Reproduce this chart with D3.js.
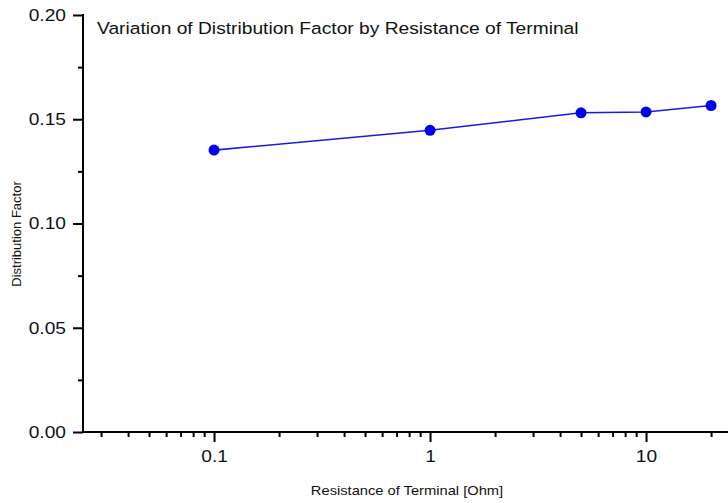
<!DOCTYPE html>
<html>
<head>
<meta charset="utf-8">
<script src="https://cdn.jsdelivr.net/npm/d3@7"></script>
<style>
  body { margin: 0; background: #fff; }
  svg { display: block; font-family: "Liberation Sans", Arial, sans-serif; }
</style>
</head>
<body>
<div id="chart"></div>
<script>
// values
const resistance = [0.1, 1, 5, 10, 20];
const distFactor = [0.1352, 0.1447, 0.1531, 0.1535, 0.1566];

const xMajor = [0.1, 1, 10];
const xMinor = [0.03, 0.04, 0.05, 0.06, 0.07, 0.08, 0.09,
                0.2, 0.3, 0.4, 0.5, 0.6, 0.7, 0.8, 0.9,
                2, 3, 4, 5, 6, 7, 8, 9, 20];
const yMajor = [0, 0.05, 0.10, 0.15, 0.20];
const yMinor = [0.025, 0.075, 0.125, 0.175];

const width = 728, height = 503;
const stretch = 1.13; // the source text looks wider than normal Arial

const svg = d3.select("#chart")
    .append("svg")
        .attr("width", width)
        .attr("height", height);

const x = d3.scaleLog().domain([0.025, 25]).range([84, 732]);
const y = d3.scaleLinear().domain([0, 0.2]).range([432, 15]);

// x axis, minor then major
svg.append("g")
    .attr("transform", `translate(0,${y(0)})`)
    .call(d3.axisBottom(x).tickValues(xMinor).tickSize(5).tickSizeOuter(0).tickFormat(""))
    .call(g => g.select(".domain").remove())
    .selectAll("line").attr("stroke", "#000").attr("stroke-width", 2);

svg.append("g")
    .attr("transform", `translate(0,${y(0)})`)
    .call(d3.axisBottom(x).tickValues(xMajor).tickSize(10).tickSizeOuter(0)
        .tickFormat(d => d3.format("~g")(d)))
    .call(g => g.selectAll("line").attr("stroke", "#000").attr("stroke-width", 2))
    .call(g => g.selectAll("text")
        .attr("font-size", 17).attr("fill", "#111").attr("dy", "1.0em")
        .attr("transform", `scale(${stretch},1)`))
    .call(g => g.select(".domain").remove());

svg.append("line")
    .attr("x1", 82).attr("x2", 730)
    .attr("y1", y(0)).attr("y2", y(0))
    .attr("stroke", "#000").attr("stroke-width", 2);

// y axis
svg.append("g")
    .attr("transform", `translate(${83},0)`)
    .call(d3.axisLeft(y).tickValues(yMinor).tickSize(5).tickFormat(""))
    .call(g => g.select(".domain").remove())
    .selectAll("line").attr("stroke", "#000").attr("stroke-width", 2);

svg.append("g")
    .attr("transform", `translate(${83},0)`)
    .call(d3.axisLeft(y).tickValues(yMajor).tickSize(10)
        .tickFormat(d3.format(".2f")))
    .call(g => g.selectAll("line").attr("stroke", "#000").attr("stroke-width", 2))
    .call(g => g.selectAll("text")
        .attr("font-size", 17).attr("fill", "#111")
        .attr("x", 0)
        .attr("transform", `translate(-17,0) scale(${stretch},1)`))
    .call(g => g.select(".domain").remove());

svg.append("line")
    .attr("x1", 83).attr("x2", 83)
    .attr("y1", y(0.2) - 1).attr("y2", y(0) + 1)
    .attr("stroke", "#000").attr("stroke-width", 2);

// series
const pts = resistance.map((r, i) => [r, distFactor[i]]);

svg.append("path")
    .datum(pts)
    .attr("fill", "none")
    .attr("stroke", "#1a1ae6")
    .attr("stroke-width", 1.6)
    .attr("d", d3.line().x(d => x(d[0])).y(d => y(d[1])));

svg.selectAll("circle")
    .data(pts)
    .enter()
    .append("circle")
        .attr("cx", d => x(d[0]))
        .attr("cy", d => y(d[1]))
        .attr("r", 5.5)
        .attr("fill", "#0000ee");

// texts
svg.append("text")
    .attr("transform", `translate(97,34) scale(${stretch},1)`)
    .attr("font-size", 17)
    .attr("fill", "#111")
    .text("Variation of Distribution Factor by Resistance of Terminal");

svg.append("text")
    .attr("transform", `translate(407,495) scale(${stretch},1)`)
    .attr("text-anchor", "middle")
    .attr("font-size", 13)
    .attr("fill", "#111")
    .text("Resistance of Terminal [Ohm]");

svg.append("text")
    .attr("transform", "translate(21,234) rotate(-90)")
    .attr("text-anchor", "middle")
    .attr("font-size", 13)
    .attr("fill", "#111")
    .text("Distribution Factor");
</script>
</body>
</html>
